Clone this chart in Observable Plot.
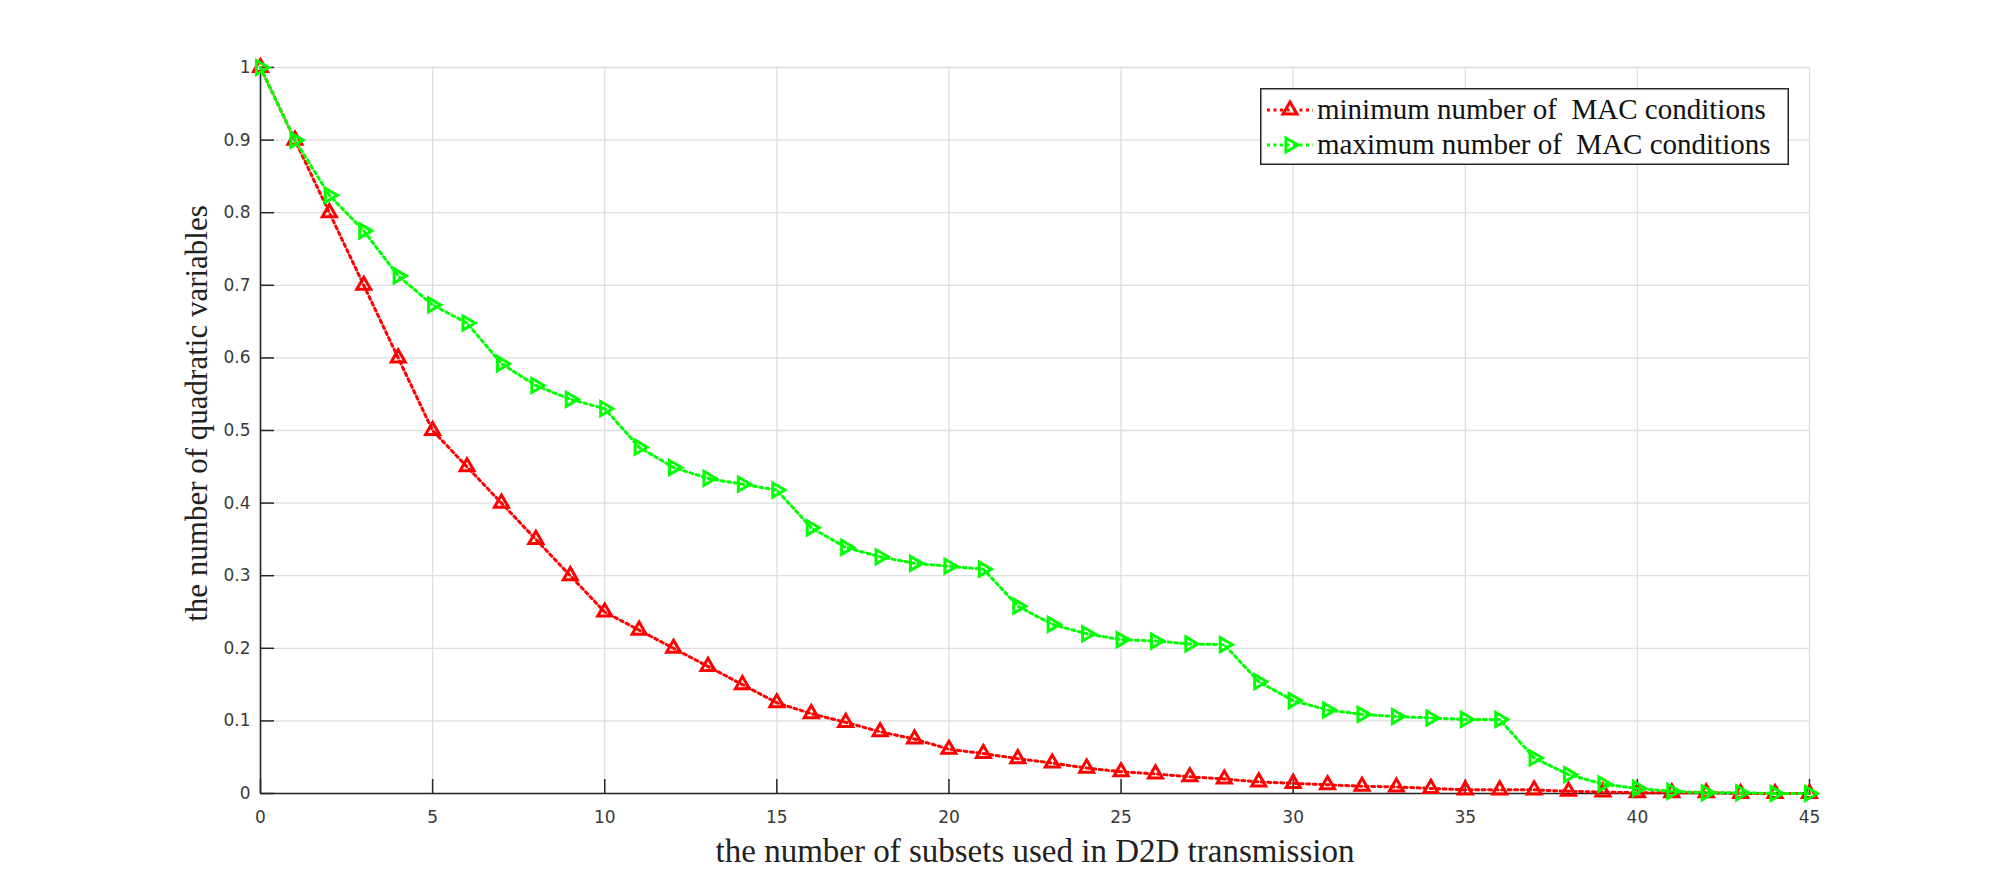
<!DOCTYPE html>
<html>
<head>
<meta charset="utf-8">
<script src="https://cdn.jsdelivr.net/npm/d3@7"></script>
<script src="https://cdn.jsdelivr.net/npm/@observablehq/plot@0.6"></script>
<style>
  html, body { margin: 0; padding: 0; background: #fff; }
  #chart { position: relative; width: 2000px; height: 893px; overflow: hidden; }
  #chart svg { display: block; }
  .legend-label { font-family: "Liberation Serif", "Times New Roman", serif; font-size: 29px; fill: #111; }
</style>
</head>
<body>
<div id="chart"></div>
<script>
// Number of subsets used in D2D transmission
const subsets = [0, 1, 2, 3, 4, 5, 6, 7, 8, 9, 10, 11, 12, 13, 14, 15, 16, 17, 18, 19, 20, 21, 22,
  23, 24, 25, 26, 27, 28, 29, 30, 31, 32, 33, 34, 35, 36, 37, 38, 39, 40, 41, 42, 43, 44, 45];

// Normalised number of quadratic variables, minimum number of MAC conditions
const minConditions = [1, 0.9, 0.8, 0.7, 0.6, 0.5, 0.45, 0.4, 0.35, 0.3, 0.25, 0.225, 0.2, 0.175,
  0.15, 0.125, 0.11, 0.098, 0.085, 0.075, 0.061, 0.055, 0.048, 0.042, 0.035, 0.03, 0.027, 0.023,
  0.02, 0.016, 0.014, 0.012, 0.01, 0.009, 0.007, 0.005, 0.005, 0.005, 0.003, 0.002, 0.001, 0.001,
  0.001, 0, 0, 0];

// Normalised number of quadratic variables, maximum number of MAC conditions
const maxConditions = [1, 0.9, 0.824, 0.775, 0.713, 0.673, 0.648, 0.592, 0.562, 0.543, 0.53,
  0.477, 0.449, 0.434, 0.426, 0.418, 0.366, 0.339, 0.326, 0.317, 0.313, 0.309, 0.258, 0.233,
  0.22, 0.212, 0.21, 0.206, 0.205, 0.154, 0.128, 0.115, 0.109, 0.106, 0.104, 0.102, 0.102,
  0.049, 0.026, 0.013, 0.007, 0.003, 0.001, 0.001, 0, 0];

const xTicks = [0, 5, 10, 15, 20, 25, 30, 35, 40, 45];
const yTicks = [0, 0.1, 0.2, 0.3, 0.4, 0.5, 0.6, 0.7, 0.8, 0.9, 1];
const yTickLabels = ["0", "0.1", "0.2", "0.3", "0.4", "0.5", "0.6", "0.7", "0.8", "0.9", "1"];

const seriesNames = ["minimum number of\u00a0 MAC conditions", "maximum number of\u00a0 MAC conditions"];
const seriesColors = ["#ff0000", "#00ff00"];
const xTitle = "the number of subsets used in D2D transmission";
const yTitle = "the number of quadratic variables";

// Layout
const W = 2000, H = 893;
const M = { top: 67, right: 191, bottom: 100, left: 260 };
const innerW = W - M.left - M.right;
const innerH = H - M.top - M.bottom;
const tickLen = 14;
const axisColor = "#262626";
const gridColor = "#dedede";
const tickLabelColor = "#3a3a3a";
const serif = "Liberation Serif, Times New Roman, serif";
const sans = "DejaVu Sans, Liberation Sans, Arial, sans-serif";

// Right-pointing triangle (d3.symbolTriangle turned a quarter clockwise)
const sqrt3 = Math.sqrt(3);
const triangleRight = {
  draw(context, size) {
    const y = -Math.sqrt(size / (sqrt3 * 3));
    context.moveTo(-2 * y, 0);
    context.lineTo(y, -sqrt3 * y);
    context.lineTo(y, sqrt3 * y);
    context.closePath();
  }
};
const seriesSymbols = ["triangle", triangleRight];
const markerR = 5.2;
const lineWidth = 3;
const dash = "3,3.5";

const rows = subsets.map((x, i) => ({ x, min: minConditions[i], max: maxConditions[i] }));

const chart = Plot.plot({
  width: W,
  height: H,
  marginTop: M.top,
  marginRight: M.right,
  marginBottom: M.bottom,
  marginLeft: M.left,
  style: { background: "transparent", fontFamily: sans, fontSize: "17px", color: tickLabelColor },
  x: { domain: [0, 45] },
  y: { domain: [0, 1] },
  marks: [
    Plot.gridX(xTicks, { stroke: gridColor, strokeOpacity: 1, strokeWidth: 1.3 }),
    Plot.gridY(yTicks, { stroke: gridColor, strokeOpacity: 1, strokeWidth: 1.3 }),
    Plot.axisX(xTicks, { tickSize: 0, tickPadding: 17, label: null, fontSize: 17, fill: tickLabelColor }),
    Plot.axisY(yTicks, {
      tickSize: 0, tickPadding: 10, label: null, fontSize: 17, fill: tickLabelColor,
      tickFormat: (d) => yTickLabels[yTicks.indexOf(d)]
    }),
    // inward tick marks
    Plot.ruleX(xTicks, { stroke: axisColor, strokeWidth: 1.5, insetTop: innerH - tickLen }),
    Plot.ruleY(yTicks, { stroke: axisColor, strokeWidth: 1.5, insetRight: innerW - tickLen }),
    // axis lines
    Plot.ruleX([0], { stroke: axisColor, strokeWidth: 1.6 }),
    Plot.ruleY([0], { stroke: axisColor, strokeWidth: 1.6 }),
    // minimum MAC conditions
    Plot.line(rows, { x: "x", y: "min", stroke: seriesColors[0], strokeWidth: lineWidth, strokeDasharray: dash }),
    Plot.dot(rows, { x: "x", y: "min", symbol: seriesSymbols[0], r: markerR, stroke: seriesColors[0], fill: "none", strokeWidth: lineWidth }),
    // maximum MAC conditions
    Plot.line(rows, { x: "x", y: "max", stroke: seriesColors[1], strokeWidth: lineWidth, strokeDasharray: dash }),
    Plot.dot(rows, { x: "x", y: "max", symbol: seriesSymbols[1], r: markerR, stroke: seriesColors[1], fill: "none", strokeWidth: lineWidth }),
    // axis titles
    Plot.text([xTitle], {
      text: (d) => d, frameAnchor: "bottom", lineAnchor: "middle", textAnchor: "middle", dy: 58,
      fontFamily: serif, fontSize: 33, fill: "#222"
    }),
    Plot.text([yTitle], {
      text: (d) => d, frameAnchor: "left", lineAnchor: "middle", textAnchor: "middle", rotate: -90, dx: -63, dy: -17,
      fontFamily: serif, fontSize: 31, fill: "#222"
    })
  ]
});

const container = document.getElementById("chart");
container.appendChild(chart);

// Legend box in the upper right corner of the axes
const legendBox = { left: 1260, top: 88, width: 529, height: 77 };
const legendRows = [22, 57];
const legend = d3.select(container).append("svg")
  .attr("width", legendBox.width)
  .attr("height", legendBox.height)
  .style("position", "absolute")
  .style("left", legendBox.left + "px")
  .style("top", legendBox.top + "px");

legend.append("rect")
  .attr("x", 0.75).attr("y", 0.75)
  .attr("width", legendBox.width - 1.5).attr("height", legendBox.height - 1.5)
  .attr("fill", "#fff").attr("stroke", axisColor).attr("stroke-width", 1.5);

const symbolTypes = [d3.symbolTriangle, triangleRight];
seriesNames.forEach((name, i) => {
  const g = legend.append("g").attr("transform", `translate(0,${legendRows[i]})`);
  g.append("line")
    .attr("x1", 7).attr("x2", 53).attr("y1", 0).attr("y2", 0)
    .attr("stroke", seriesColors[i]).attr("stroke-width", lineWidth)
    .attr("stroke-dasharray", dash);
  g.append("path")
    .attr("transform", "translate(30,0)")
    .attr("d", d3.symbol(symbolTypes[i], markerR * markerR * Math.PI)())
    .attr("fill", "none").attr("stroke", seriesColors[i]).attr("stroke-width", lineWidth);
  g.append("text")
    .attr("class", "legend-label")
    .attr("x", 57).attr("y", 0).attr("dy", "0.32em")
    .text(name);
});
</script>
</body>
</html>
